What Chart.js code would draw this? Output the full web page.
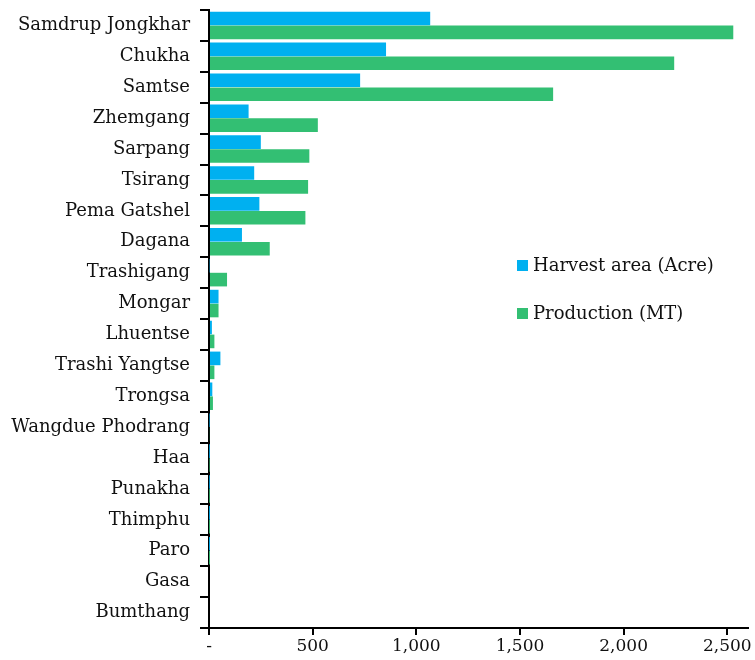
<!DOCTYPE html>
<html>
<head>
<meta charset="utf-8">
<script src="https://cdn.jsdelivr.net/npm/chart.js@4.4.1/dist/chart.umd.min.js"></script>
<style>
  html, body { margin: 0; padding: 0; background: #fff; }
  #wrap { width: 755px; height: 660px; }
</style>
</head>
<body>
<div id="wrap"><canvas id="chartDistrict"></canvas></div>
<script>
const districts = ['Samdrup Jongkhar', 'Chukha', 'Samtse', 'Zhemgang', 'Sarpang', 'Tsirang',
    'Pema Gatshel', 'Dagana', 'Trashigang', 'Mongar', 'Lhuentse', 'Trashi Yangtse', 'Trongsa',
    'Wangdue Phodrang', 'Haa', 'Punakha', 'Thimphu', 'Paro', 'Gasa', 'Bumthang'];
const harvestArea = [1067, 854, 729, 191, 250, 218, 243, 159, 3, 46, 14, 55, 16, 2, 1, 1, 0.5, 0.3, 0, 0];
const production = [2529, 2244, 1660, 525, 484, 478, 465, 293, 87, 46, 26, 26, 19, 4, 2, 1, 0.5, 0.3, 0, 0];
const xTicks = [0, 500, 1000, 1500, 2000, 2500];
const seriesNames = ['Harvest area (Acre)', 'Production (MT)'];
const seriesColors = ['#00b0f0', '#33bf73'];

const fontFamily = "'DejaVu Serif', 'Liberation Serif', serif";

// draws the legend inside the plot, like the original
const insideLegend = {
    id: 'insideLegend',
    afterDraw(chart) {
        const ctx = chart.ctx;
        const x = 517, ys = [265, 313];
        ctx.save();
        ctx.font = '18px ' + fontFamily;
        ctx.textBaseline = 'middle';
        chart.data.datasets.forEach(function(ds, i) {
            ctx.fillStyle = ds.backgroundColor;
            ctx.fillRect(x, ys[i] - 5, 11, 11);
            ctx.fillStyle = '#111';
            ctx.fillText(ds.label, x + 16, ys[i] + 1);
        });
        ctx.restore();
    }
};

new Chart(document.getElementById('chartDistrict'), {
    type: 'bar',
    data: {
        labels: districts,
        datasets: [
            { label: seriesNames[0], data: harvestArea, backgroundColor: seriesColors[0] },
            { label: seriesNames[1], data: production, backgroundColor: seriesColors[1] }
        ]
    },
    options: {
        indexAxis: 'y',
        responsive: true,
        maintainAspectRatio: false,
        animation: false,
        layout: { padding: { top: 10, right: 7, bottom: 0, left: 0 } },
        datasets: { bar: { categoryPercentage: 0.9, barPercentage: 0.98 } },
        scales: {
            x: {
                min: 0,
                max: 2600,
                border: { color: '#000', width: 2 },
                grid: { display: true, drawOnChartArea: false, color: '#000', lineWidth: 2, tickLength: 7 },
                afterBuildTicks: function(axis) {
                    axis.ticks = xTicks.map(v => ({ value: v }));
                },
                afterFit: function(axis) { axis.height = 32; },
                ticks: {
                    color: '#111',
                    padding: 1,
                    font: { family: fontFamily, size: 17 },
                    maxRotation: 0,
                    callback: function(v) { return v === 0 ? '-' : v.toLocaleString('en-US'); }
                }
            },
            y: {
                border: { color: '#000', width: 2 },
                grid: { display: true, drawOnChartArea: false, color: '#000', lineWidth: 2, tickLength: 9, offset: true },
                afterFit: function(axis) {
                    axis.width = 209;
                    axis.paddingTop = 0;
                    axis.paddingBottom = 0;
                },
                ticks: {
                    color: '#111',
                    padding: 10,
                    autoSkip: false,
                    font: { family: fontFamily, size: 18 }
                }
            }
        },
        plugins: {
            legend: { display: false },
            tooltip: { enabled: false }
        }
    },
    plugins: [insideLegend]
});
</script>
</body>
</html>
